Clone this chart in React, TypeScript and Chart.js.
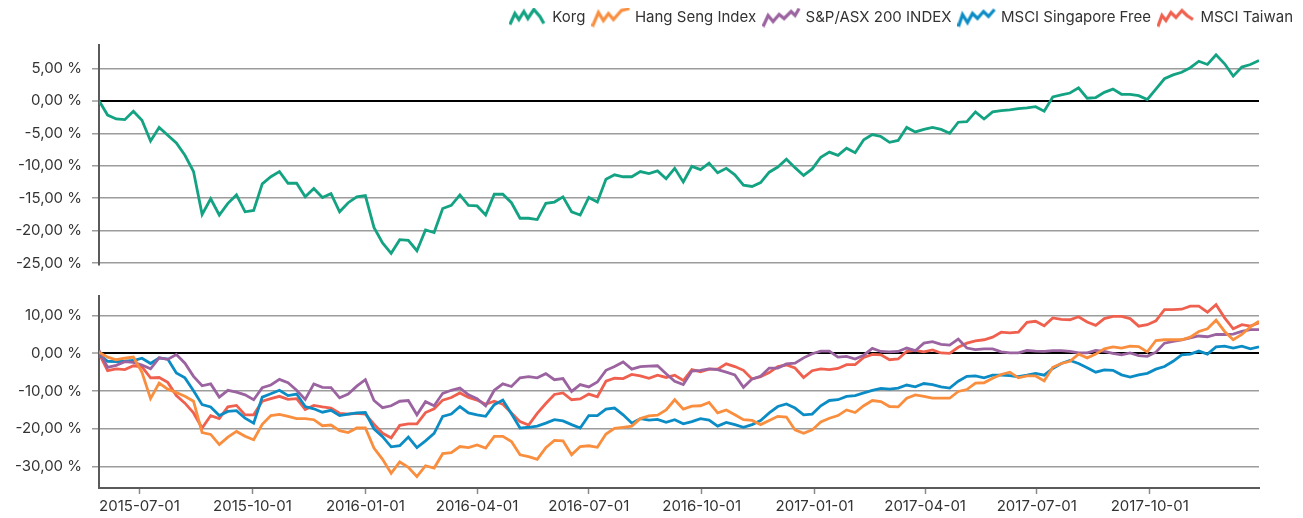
import React, { useEffect, useRef } from "react";
import { Chart, registerables } from "chart.js";

Chart.register(...registerables);

// ---------- data ----------
const FIRST_WEEK = "2015-05-29"; // weekly observations (Fridays)
const WEEK_COUNT = 136;
const X_MIN_DATE = "2015-05-29";
const X_MAX_DATE = "2017-12-29";
const X_TICK_DATES = [
  "2015-07-01", "2015-10-01", "2016-01-01", "2016-04-01", "2016-07-01",
  "2016-10-01", "2017-01-01", "2017-04-01", "2017-07-01", "2017-10-01",
];
const TOP_TICKS = [5, 0, -5, -10, -15, -20, -25];
const BOTTOM_TICKS = [10, 0, -10, -20, -30];
const SERIES_NAMES = ["Korg", "Hang Seng Index", "S&P/ASX 200 INDEX", "MSCI Singapore Free", "MSCI Taiwan"];

const KORG = [
  0, -2.2, -2.8, -2.9, -1.6, -3.0, -6.2, -4.1, -5.3, -6.5,
  -8.4, -10.9, -17.5, -15.1, -17.6, -15.8, -14.5, -17.1, -16.9, -12.8,
  -11.7, -10.9, -12.7, -12.7, -14.8, -13.5, -14.9, -14.3, -17.1, -15.7,
  -14.8, -14.6, -19.5, -21.9, -23.5, -21.4, -21.5, -23.1, -19.9, -20.3,
  -16.6, -16.1, -14.5, -16.1, -16.2, -17.6, -14.4, -14.4, -15.7, -18.1,
  -18.1, -18.3, -15.8, -15.6, -14.8, -17.1, -17.6, -14.9, -15.6, -12.1,
  -11.4, -11.7, -11.7, -10.9, -11.2, -10.8, -12.0, -10.4, -12.5, -10.1,
  -10.6, -9.6, -11.1, -10.4, -11.4, -13.0, -13.2, -12.6, -11.0, -10.2,
  -9.0, -10.3, -11.5, -10.5, -8.7, -7.9, -8.4, -7.3, -8.0, -6.0,
  -5.2, -5.5, -6.4, -6.1, -4.1, -4.8, -4.4, -4.1, -4.4, -5.0,
  -3.3, -3.2, -1.7, -2.8, -1.7, -1.5, -1.4, -1.2, -1.1, -0.9,
  -1.6, 0.6, 0.9, 1.2, 2.0, 0.4, 0.5, 1.3, 1.8, 1.0,
  1.0, 0.8, 0.2, 1.8, 3.4, 4.0, 4.4, 5.1, 6.1, 5.6,
  7.1, 5.7, 3.8, 5.2, 5.6, 6.2,
];

const HANG_SENG = [
  0.3, -1.0, -1.7, -1.3, -1.0, -5.0, -12.0, -7.9, -9.5, -10.4,
  -11.4, -12.7, -21.0, -21.5, -24.2, -22.2, -20.7, -22.0, -22.9, -18.8,
  -16.5, -16.2, -16.7, -17.3, -17.3, -17.6, -19.2, -19.0, -20.5, -21.0,
  -19.8, -19.8, -25.1, -28.1, -31.8, -28.8, -30.2, -32.7, -29.8, -30.4,
  -26.6, -26.3, -24.7, -25.0, -24.3, -25.1, -22.0, -22.0, -23.4, -26.9,
  -27.4, -28.1, -25.0, -23.1, -23.2, -26.9, -24.7, -24.5, -24.9, -21.4,
  -19.9, -19.6, -19.3, -17.3, -16.6, -16.4, -15.0, -12.3, -14.8, -14.0,
  -13.9, -13.0, -15.8, -15.0, -16.3, -17.6, -17.8, -18.9, -17.8, -16.7,
  -16.9, -20.3, -21.2, -20.3, -18.2, -17.2, -16.5, -15.0, -15.7, -13.9,
  -12.5, -12.8, -14.1, -14.2, -11.9, -11.0, -11.4, -11.9, -11.9, -11.9,
  -10.1, -9.6, -7.9, -7.8, -6.6, -5.6, -5.0, -6.5, -6.0, -6.0,
  -7.3, -3.7, -2.7, -2.1, -0.2, -1.2, -0.2, 1.2, 1.7, 1.4,
  1.9, 1.8, 0.4, 3.4, 3.6, 3.6, 3.6, 4.3, 5.8, 6.5,
  8.8, 5.8, 3.6, 5.0, 7.0, 8.5,
];

const SP_ASX200 = [
  0.8, -3.7, -3.2, -2.2, -2.4, -3.1, -4.1, -1.2, -1.6, -0.3,
  -2.6, -6.1, -8.6, -8.1, -11.6, -9.8, -10.3, -11.0, -12.3, -9.1,
  -8.4, -6.9, -7.8, -9.8, -12.2, -8.1, -9.0, -9.1, -11.8, -10.8,
  -8.7, -7.0, -12.5, -14.4, -13.9, -12.7, -12.5, -16.3, -12.8, -13.9,
  -10.6, -9.8, -9.2, -11.0, -12.0, -13.9, -9.8, -8.1, -8.8, -6.5,
  -6.2, -6.5, -5.4, -7.0, -6.7, -10.1, -8.3, -8.9, -7.6, -4.5,
  -3.5, -2.3, -4.2, -3.5, -3.4, -3.3, -5.4, -7.4, -8.3, -4.7,
  -4.5, -4.1, -4.3, -5.0, -5.7, -9.0, -6.8, -6.1, -3.9, -3.9,
  -2.8, -2.6, -1.2, -0.1, 0.6, 0.6, -1.0, -0.8, -1.5, -0.5,
  1.3, 0.5, 0.4, 0.5, 1.4, 0.7, 2.7, 3.1, 2.4, 2.2,
  3.8, 1.4, 1.0, 1.2, 1.2, 0.4, 0.1, 0.1, 0.8, 0.6,
  0.5, 0.7, 0.7, 0.5, 0.1, 0.1, 0.8, 0.5, 0.0, -0.4,
  0.1, -0.6, -0.8, 0.3, 2.7, 3.2, 3.6, 4.1, 4.6, 4.4,
  5.0, 5.0, 5.1, 5.8, 6.3, 6.3,
];

const MSCI_SINGAPORE = [
  -0.3, -2.1, -2.2, -2.1, -1.9, -1.3, -2.7, -1.2, -1.5, -5.2,
  -6.5, -9.9, -13.6, -14.2, -16.5, -15.4, -15.2, -17.2, -18.5, -11.6,
  -10.7, -9.8, -11.2, -10.8, -14.1, -14.7, -15.6, -15.1, -16.5, -16.1,
  -15.8, -15.7, -20.0, -22.1, -24.8, -24.5, -22.2, -25.0, -23.2, -21.2,
  -16.7, -16.1, -14.1, -15.8, -16.3, -16.7, -13.6, -12.4, -16.0, -19.8,
  -19.6, -19.3, -18.5, -17.6, -17.9, -18.9, -19.8, -16.5, -16.5, -14.8,
  -14.5, -16.3, -18.5, -17.3, -17.7, -17.5, -18.3, -17.6, -18.7, -18.1,
  -17.3, -17.7, -19.3, -18.3, -18.9, -19.6, -18.9, -17.8, -15.8, -14.1,
  -13.4, -14.5, -16.3, -16.1, -13.9, -12.5, -12.3, -11.4, -11.2, -10.5,
  -9.8, -9.3, -9.5, -9.2, -8.4, -8.9, -8.0, -8.3, -8.9, -9.2,
  -7.4, -6.1, -6.0, -6.5, -5.8, -5.8, -5.9, -6.2, -5.8, -5.3,
  -5.8, -4.0, -2.7, -1.9, -2.7, -3.8, -5.0, -4.4, -4.5, -5.7,
  -6.3, -5.7, -5.3, -4.2, -3.5, -2.1, -0.4, -0.2, 0.6, -0.2,
  1.7, 1.9, 1.4, 1.9, 1.2, 1.7,
];

const MSCI_TAIWAN = [
  0.0, -4.6, -4.1, -4.3, -3.3, -3.6, -6.5, -6.4, -7.7, -11.2,
  -13.2, -15.8, -19.8, -16.5, -17.3, -14.2, -13.8, -16.3, -16.3, -12.7,
  -12.0, -11.4, -12.2, -12.0, -14.9, -13.8, -14.2, -14.5, -15.9, -16.1,
  -15.9, -16.1, -18.8, -21.2, -22.4, -19.1, -18.7, -18.7, -15.7, -14.7,
  -12.4, -11.7, -10.5, -11.7, -12.4, -13.5, -12.7, -13.5, -15.8, -18.1,
  -19.0, -15.9, -13.3, -10.9, -10.5, -12.3, -12.1, -10.8, -11.5, -7.4,
  -6.6, -6.7, -5.6, -6.0, -6.6, -5.8, -6.4, -5.8, -7.2, -4.3,
  -4.9, -4.2, -4.2, -2.8, -3.5, -4.5, -6.8, -6.2, -5.1, -3.5,
  -3.1, -3.9, -6.4, -4.6, -4.1, -4.3, -4.0, -3.0, -3.0, -1.1,
  -0.3, -0.4, -1.7, -1.5, 0.5, 0.8, 0.4, 0.9, 0.1, 0.0,
  1.6, 2.7, 3.3, 3.6, 4.3, 5.6, 5.4, 5.6, 8.2, 8.5,
  7.3, 9.4, 9.0, 8.9, 9.7, 8.3, 7.4, 9.2, 9.8, 9.8,
  9.2, 7.2, 7.6, 8.6, 11.6, 11.6, 11.7, 12.5, 12.5, 10.9,
  12.9, 9.4, 6.5, 7.6, 7.2, 8.1,
];

// ---------- styles ----------
const COLORS = ["#13a383", "#f98e3e", "#9b63a0", "#0b8cc5", "#f0604f"];
const ICON_SHAPES = [
  [[1, 17], [6, 6], [10, 12], [15, 4], [19, 11], [25, 2], [31, 9], [35, 16]],
  [[1, 19], [7, 5], [12, 13], [17, 6], [22, 12], [30, 3], [38, 1]],
  [[1, 19], [6, 8], [11, 14], [17, 7], [22, 11], [29, 4], [33, 8], [37, 1]],
  [[1, 19], [5, 7], [10, 15], [15, 6], [20, 11], [26, 4], [31, 9], [37, 2]],
  [[1, 19], [5, 8], [9, 13], [14, 5], [19, 10], [25, 3], [30, 8], [36, 12]],
];
const FONT_FAMILY = "Inter, 'DejaVu Sans', sans-serif";
const FONT_SIZE = 15;
const TEXT_COLOR = "#333333";
const GRID_COLOR = "#9c9c9c";
const AXIS_COLOR = "#5a5a5a";

const dayNum = (s: string) => {
  const [y, m, d] = s.split("-").map(Number);
  return Date.UTC(y, m - 1, d) / 86400000;
};
const WEEK_DAYS = Array.from({ length: WEEK_COUNT }, (_, i) => dayNum(FIRST_WEEK) + 7 * i);
const toPoints = (vals: number[]) => vals.map((y, i) => ({ x: WEEK_DAYS[i], y }));
const fmtPct = (v: number) => v.toFixed(2).replace(".", ",") + " %";

function makeIcon(color: string, pts: number[][]) {
  const c = document.createElement("canvas");
  c.width = 40;
  c.height = 20;
  const ctx = c.getContext("2d")!;
  ctx.strokeStyle = color;
  ctx.lineWidth = 3.2;
  ctx.lineJoin = "miter";
  ctx.beginPath();
  pts.forEach(([x, y], i) => (i ? ctx.lineTo(x, y) : ctx.moveTo(x, y)));
  ctx.stroke();
  return c;
}

const yGrid = {
  color: (ctx: any) => (ctx.tick && ctx.tick.value === 0 ? "#000000" : GRID_COLOR),
  lineWidth: (ctx: any) => (ctx.tick && ctx.tick.value === 0 ? 2 : 1.5),
  tickColor: GRID_COLOR,
  tickLength: 7,
  tickWidth: 1.5,
};

const lineDs = (label: string, vals: number[], color: string) => ({
  label,
  data: toPoints(vals),
  borderColor: color,
  backgroundColor: color,
  borderWidth: 2.8,
  pointRadius: 0,
  tension: 0,
  fill: false,
});

export default function App() {
  const topRef = useRef<HTMLCanvasElement>(null);
  const botRef = useRef<HTMLCanvasElement>(null);

  useEffect(() => {
    Chart.defaults.font.family = FONT_FAMILY;
    Chart.defaults.color = TEXT_COLOR;
    const icons = COLORS.map((c, i) => makeIcon(c, ICON_SHAPES[i]));
    const xMin = dayNum(X_MIN_DATE);
    const xMax = dayNum(X_MAX_DATE);

    const top = new Chart(topRef.current!, {
      type: "line",
      data: { datasets: [lineDs(SERIES_NAMES[0], KORG, COLORS[0])] },
      options: {
        animation: false,
        responsive: false,
        devicePixelRatio: 1,
        layout: { padding: { top: 0, right: 0, left: 0, bottom: 7 } },
        plugins: {
          tooltip: { enabled: false },
          legend: {
            position: "top",
            align: "end",
            labels: {
              usePointStyle: true,
              pointStyleWidth: 32,
              padding: 10,
              color: TEXT_COLOR,
              font: { size: FONT_SIZE, family: FONT_FAMILY },
              generateLabels: () =>
                SERIES_NAMES.map((name, i) => ({
                  text: name,
                  pointStyle: icons[i],
                  fillStyle: COLORS[i],
                  strokeStyle: COLORS[i],
                  lineWidth: 0,
                  hidden: false,
                  datasetIndex: 0,
                  fontColor: TEXT_COLOR,
                })) as any,
            },
          },
          title: { display: true, text: "", weight: 500, padding: 0, font: { size: 10, lineHeight: 1 } } as any,
        },
        scales: {
          x: { type: "linear", min: xMin, max: xMax, display: false },
          y: {
            type: "linear",
            position: "left",
            min: -25.3,
            max: 8.6,
            afterFit: (s: any) => { s.width = 99; s.paddingTop = 0; s.paddingBottom = 0; },
            afterBuildTicks: (s: any) => { s.ticks = TOP_TICKS.map((v) => ({ value: v })); },
            ticks: { callback: (v: any) => fmtPct(Number(v)), color: TEXT_COLOR, font: { size: FONT_SIZE }, padding: 10 },
            grid: yGrid as any,
            border: { color: AXIS_COLOR, width: 2 },
          },
          yR: {
            type: "linear",
            position: "right",
            afterFit: (s: any) => { s.width = 44; s.paddingTop = 0; s.paddingBottom = 0; },
            grid: { display: false },
            ticks: { display: false },
            border: { display: false },
          },
        },
      } as any,
    });

    const bottom = new Chart(botRef.current!, {
      type: "line",
      data: {
        datasets: [
          lineDs(SERIES_NAMES[1], HANG_SENG, COLORS[1]),
          lineDs(SERIES_NAMES[2], SP_ASX200, COLORS[2]),
          lineDs(SERIES_NAMES[3], MSCI_SINGAPORE, COLORS[3]),
          lineDs(SERIES_NAMES[4], MSCI_TAIWAN, COLORS[4]),
        ],
      },
      options: {
        animation: false,
        responsive: false,
        devicePixelRatio: 1,
        layout: { padding: { top: 16, right: 44, left: 0, bottom: 0 } },
        plugins: { tooltip: { enabled: false }, legend: { display: false } },
        scales: {
          x: {
            type: "linear",
            min: xMin,
            max: xMax,
            afterFit: (s: any) => { s.height = 30; s.paddingLeft = 0; s.paddingRight = 0; },
            afterBuildTicks: (s: any) => { s.ticks = X_TICK_DATES.map((d) => ({ value: dayNum(d) })); },
            ticks: {
              callback: (_v: any, i: number) => X_TICK_DATES[i],
              autoSkip: false,
              maxRotation: 0,
              color: TEXT_COLOR,
              font: { size: FONT_SIZE },
              padding: 3,
            },
            grid: { drawOnChartArea: false, drawTicks: true, tickLength: 6, tickColor: "#8a8a8a", tickWidth: 1.5 },
            border: { color: AXIS_COLOR, width: 2 },
          },
          y: {
            type: "linear",
            position: "left",
            min: -35.7,
            max: 15.2,
            afterFit: (s: any) => { s.width = 99; s.paddingTop = 0; s.paddingBottom = 0; },
            afterBuildTicks: (s: any) => { s.ticks = BOTTOM_TICKS.map((v) => ({ value: v })); },
            ticks: { callback: (v: any) => fmtPct(Number(v)), color: TEXT_COLOR, font: { size: FONT_SIZE }, padding: 10 },
            grid: yGrid as any,
            border: { color: AXIS_COLOR, width: 2 },
          },
        },
      } as any,
    });

    return () => {
      top.destroy();
      bottom.destroy();
    };
  }, []);

  return (
    <div style={{ position: "absolute", left: 0, top: 0, width: 1303, height: 518, background: "#fff" }}>
      <canvas ref={topRef} width={1303} height={272} style={{ position: "absolute", left: 0, top: 0 }} />
      <canvas ref={botRef} width={1303} height={238} style={{ position: "absolute", left: 0, top: 280 }} />
    </div>
  );
}
